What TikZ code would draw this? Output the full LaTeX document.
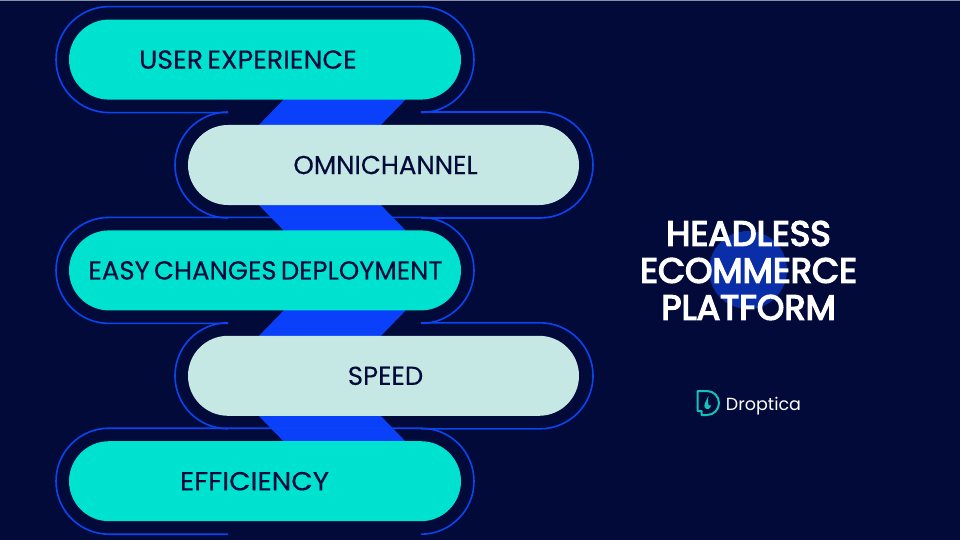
\documentclass[tikz,border=0pt]{standalone}
\usepackage{fontspec}
\setmainfont{Poppins}
\newfontfamily\pillfont[FakeBold=0.25,WordSpace=0.6]{Poppins}
\newfontfamily\titlefont[FakeBold=4]{Poppins}
\usetikzlibrary{calc}

\definecolor{navybg}{HTML}{020A3A}
\definecolor{bandblue}{HTML}{0A40FA}
\definecolor{linkblue}{HTML}{0A45F2}
\definecolor{tealpill}{HTML}{00E2D0}
\definecolor{palepill}{HTML}{C5E8E4}
\definecolor{spotblue}{HTML}{0A2EA8}
\definecolor{logoteal}{HTML}{12C4B8}
\definecolor{topedge}{HTML}{8A8FA8}

\tikzset{
	pillteal/.style={fill=tealpill, rounded corners=40pt},
	pillpale/.style={fill=palepill, rounded corners=40pt},
	pilltext/.style={text=navybg, font=\pillfont\fontsize{26}{26}\selectfont, inner sep=0pt},
	titletext/.style={text=white, font=\titlefont\fontsize{35}{37}\selectfont, align=center, inner sep=0pt},
	outline/.style={draw=linkblue, line width=1.6pt}
}

\begin{document}
\begin{tikzpicture}[x=1pt,y=-1pt]

	% ---- parameters

	\def\rowstep{105.4}
	\def\rowtop{59.6}

	% ---- background

	\fill[navybg] (0,0) rectangle (960,540);
	\useasboundingbox (0,0) rectangle (960,540);
	\fill[topedge] (0,0) rectangle (960,0.8);

	% ---- spot behind the title

	\fill[spotblue] (748,270) circle (39);

	% ---- bands between the rows

	\fill[bandblue] (289,94) -- (411,94) -- (376,130) -- (254,130) -- cycle;
	\fill[bandblue] (254,200) -- (376,200) -- (411,236) -- (289,236) -- cycle;
	\fill[bandblue] (289,305) -- (411,305) -- (376,341) -- (254,341) -- cycle;
	\fill[bandblue] (254,411) -- (376,411) -- (411,447) -- (289,447) -- cycle;

	% ---- outlines

	\foreach \i in {0,2,4} {
		\draw[outline] (228,{\rowtop+\rowstep*\i+53}) -- (109,{\rowtop+\rowstep*\i+53})
			arc[start angle=90, end angle=270, radius=53] -- (421,{\rowtop+\rowstep*\i-53})
			arc[start angle=-90, end angle=90, radius=53];
	}
	\foreach \i in {1,3} {
		\draw[outline] (228,{\rowtop+\rowstep*\i+53})
			arc[start angle=90, end angle=270, radius=53];
		\draw[outline] (421,{\rowtop+\rowstep*\i-53}) -- (540,{\rowtop+\rowstep*\i-53})
			arc[start angle=-90, end angle=90, radius=53] -- (421,{\rowtop+\rowstep*\i+53});
	}

	% ---- pills

	\fill[pillteal] (69,19.6) rectangle (461,99.6);
	\fill[pillpale] (188,125) rectangle (579,205);
	\fill[pillteal] (69,230.4) rectangle (461,310.4);
	\fill[pillpale] (188,335.8) rectangle (579,415.8);
	\fill[pillteal] (69,441.2) rectangle (461,521.2);

	% ---- pill labels

	\node[pilltext] (experience) at (248,59.6) {\scalebox{1.03}[1]{USER EXPERIENCE}};
	\node[pilltext] (omnichannel) at (385.5,165) {OMNICHANNEL};
	\node[pilltext] (deployment) at (265.5,270.4) {EASY CHANGES DEPLOYMENT};
	\node[pilltext] (speed) at (385.5,375.8) {SPEED};
	\node[pilltext] (efficiency) at (254.5,481.2) {\scalebox{1.07}[1]{EFFICIENCY}};

	% ---- title

	\node[titletext] (title) at (748.5,270.5) {HEADLESS\\ECOMMERCE\\PLATFORM};

	% ---- logo

	\draw[logoteal, line width=2pt, line join=round]
		(697.5,391) -- (707,391) arc[start angle=-90, end angle=90, radius=12] -- (701.5,415) -- (701.5,411) -- (697.5,411) -- cycle;
	\fill[logoteal] (708.5,396) .. controls (706,401) and (703,405) .. (705,408) .. controls (707,410) and (711,409) .. (711,405) .. controls (709,407) and (707,405) .. cycle;
	\node[text=white, font=\fontsize{17.5}{18}\selectfont, inner sep=0pt] (brand) at (763.5,406) {Droptica};

\end{tikzpicture}
\end{document}
